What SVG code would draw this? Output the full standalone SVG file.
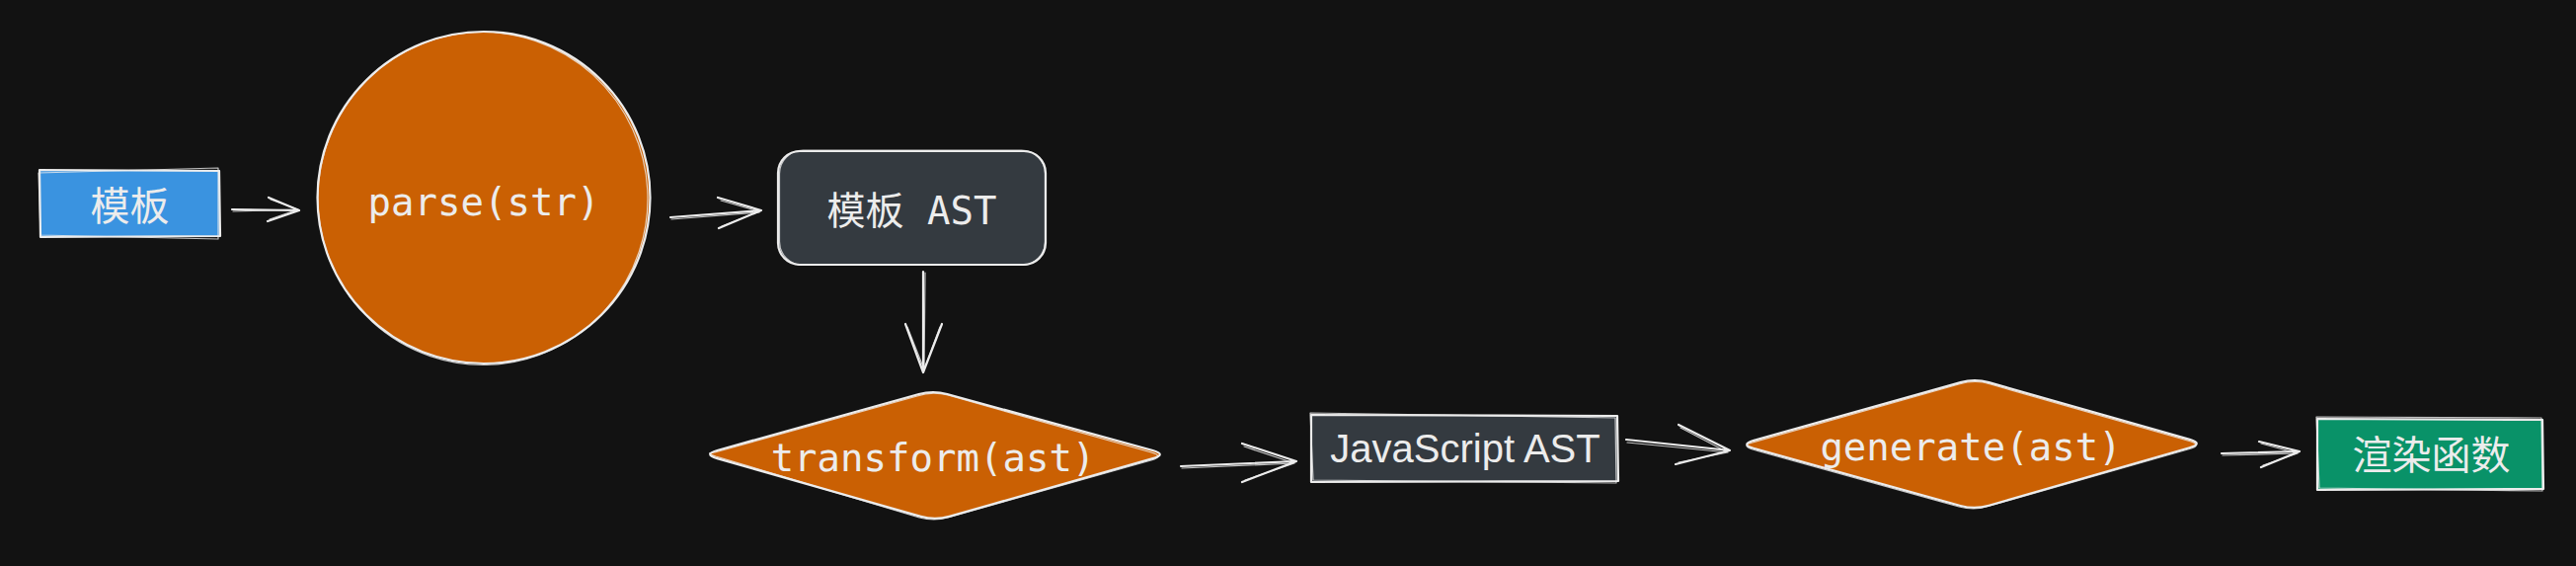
<svg xmlns="http://www.w3.org/2000/svg" width="2609" height="573" viewBox="0 0 2609 573">
<style>
.s{fill:none;stroke:#ececec;stroke-width:2.2;stroke-linecap:round;stroke-linejoin:round}
.s2{fill:none;stroke:#ececec;stroke-width:1.2;stroke-linecap:round;stroke-linejoin:round;opacity:0.8}
.t{fill:#ececec;text-anchor:middle}
.mono{font-family:"DejaVu Sans Mono","Noto Sans CJK SC",monospace;font-size:39px}
.cjk{font-family:"Noto Sans CJK SC",sans-serif;font-size:40px}
.sans{font-family:"Liberation Sans",Arial,sans-serif;font-size:40px}
</style>
<rect x="0" y="0" width="2609" height="573" fill="#121212"/>

<g id="node-template">
<rect x="40" y="172" width="183" height="68" fill="#3a93e0"/>
<path class="s" d="M40 172 L222 173 L223 239 L41 240 Z"/>
<path class="s2" d="M39 175 L221 170 L221 242 L41 238 Z"/>
<text class="t cjk" x="131.5" y="223">模板</text>
</g>

<g id="node-parse">
<ellipse cx="490" cy="200" rx="168.5" ry="168" fill="#ca6003"/>
<ellipse class="s" cx="490" cy="200" rx="168.5" ry="168"/>
<ellipse class="s2" cx="489" cy="201" rx="167" ry="168.5" transform="rotate(-3 489 201)"/>
<text class="t mono" x="490" y="218">parse(str)</text>
</g>

<g id="node-template-ast">
<rect x="788" y="153" width="271" height="115" rx="22" fill="#343a40"/>
<rect class="s" x="788" y="153" width="271" height="115" rx="22"/>
<rect class="s2" x="789.5" y="152" width="269" height="116.5" rx="24"/>
<text class="t mono" x="923.5" y="227">模板 AST</text>
</g>

<g id="node-transform">
<path fill="#ca6003" d="M726.4 456 L930.6 399 Q945 395 959.4 399 L1167.6 456 Q1182 460 1167.6 464.1 L961.4 522.9 Q947 527 932.6 522.9 L726.4 464.1 Q712 460 726.4 456 Z"/>
<path class="s" d="M726.4 456 L930.6 399 Q945 395 959.4 399 L1167.6 456 Q1182 460 1167.6 464.1 L961.4 522.9 Q947 527 932.6 522.9 L726.4 464.1 Q712 460 726.4 456 Z"/>
<path class="s2" d="M724 458 L929 401 Q944 396 960 400 L1166 458 Q1180 462 1166 466 L960 524 Q946 528 931 524 L725 462 Q713 458 724 458 Z"/>
<text class="t mono" x="945" y="477">transform(ast)</text>
</g>

<g id="node-js-ast">
<rect x="1328" y="420" width="311" height="68" fill="#343a40"/>
<path class="s" d="M1328 420 L1638 421 L1639 487 L1328 488 Z"/>
<path class="s2" d="M1327 418 L1636 423 L1637 489 L1330 486 Z"/>
<text class="t sans" x="1484" y="468">JavaScript AST</text>
</g>

<g id="node-generate">
<path fill="#ca6003" d="M1776.4 445.9 L1985.6 387.1 Q2000 383 2014.4 387.1 L2217.6 444.9 Q2232 449 2217.6 453.2 L2014.4 511.8 Q2000 516 1985.5 512 L1776.5 454 Q1762 450 1776.4 445.9 Z"/>
<path class="s" d="M1776.4 445.9 L1985.6 387.1 Q2000 383 2014.4 387.1 L2217.6 444.9 Q2232 449 2217.6 453.2 L2014.4 511.8 Q2000 516 1985.5 512 L1776.5 454 Q1762 450 1776.4 445.9 Z"/>
<path class="s2" d="M1775 448 L1984 389 Q2001 384 2016 389 L2219 447 Q2231 451 2216 455 L2012 513 Q1999 517 1984 513 L1775 455 Q1763 451 1775 448 Z"/>
<text class="t mono" x="1996" y="466">generate(ast)</text>
</g>

<g id="node-render">
<rect x="2347" y="424" width="229" height="72" fill="#099268"/>
<path class="s" d="M2347 424 L2575 425 L2576 495 L2347 496 Z"/>
<path class="s2" d="M2346 422 L2574 423 L2575 497 L2349 494 Z"/>
<text class="t cjk" x="2462.5" y="475">渲染函数</text>
</g>

<g id="connectors">
<path class="s" d="M235 212 L303 213 M272 200 L303 213 L271 224"/>
<path class="s2" d="M236 214 L302 212 M274 202 L302 212 L273 222"/>
<path class="s" d="M679 220 L771 213 M727 200 L771 213 L728 231"/>
<path class="s2" d="M680 222 L769 215 M730 203 L769 214 L731 229"/>
<path class="s" d="M935 275 L935 377 M917 328 L935 377 L954 328"/>
<path class="s2" d="M937 276 L936 375 M919 331 L936 374 L952 331"/>
<path class="s" d="M1196 472 L1313 467 M1258 449 L1313 467 L1258 488"/>
<path class="s2" d="M1197 474 L1311 469 M1260 452 L1311 469 L1261 486"/>
<path class="s" d="M1647 445 L1752 456 M1700 430 L1752 456 L1697 470"/>
<path class="s2" d="M1648 448 L1750 458 M1702 433 L1750 458 L1700 468"/>
<path class="s" d="M2250 459 L2329 457 M2288 447 L2329 457 L2290 473"/>
<path class="s2" d="M2251 461 L2327 459 M2290 449 L2327 459 L2292 471"/>
</g>
</svg>
